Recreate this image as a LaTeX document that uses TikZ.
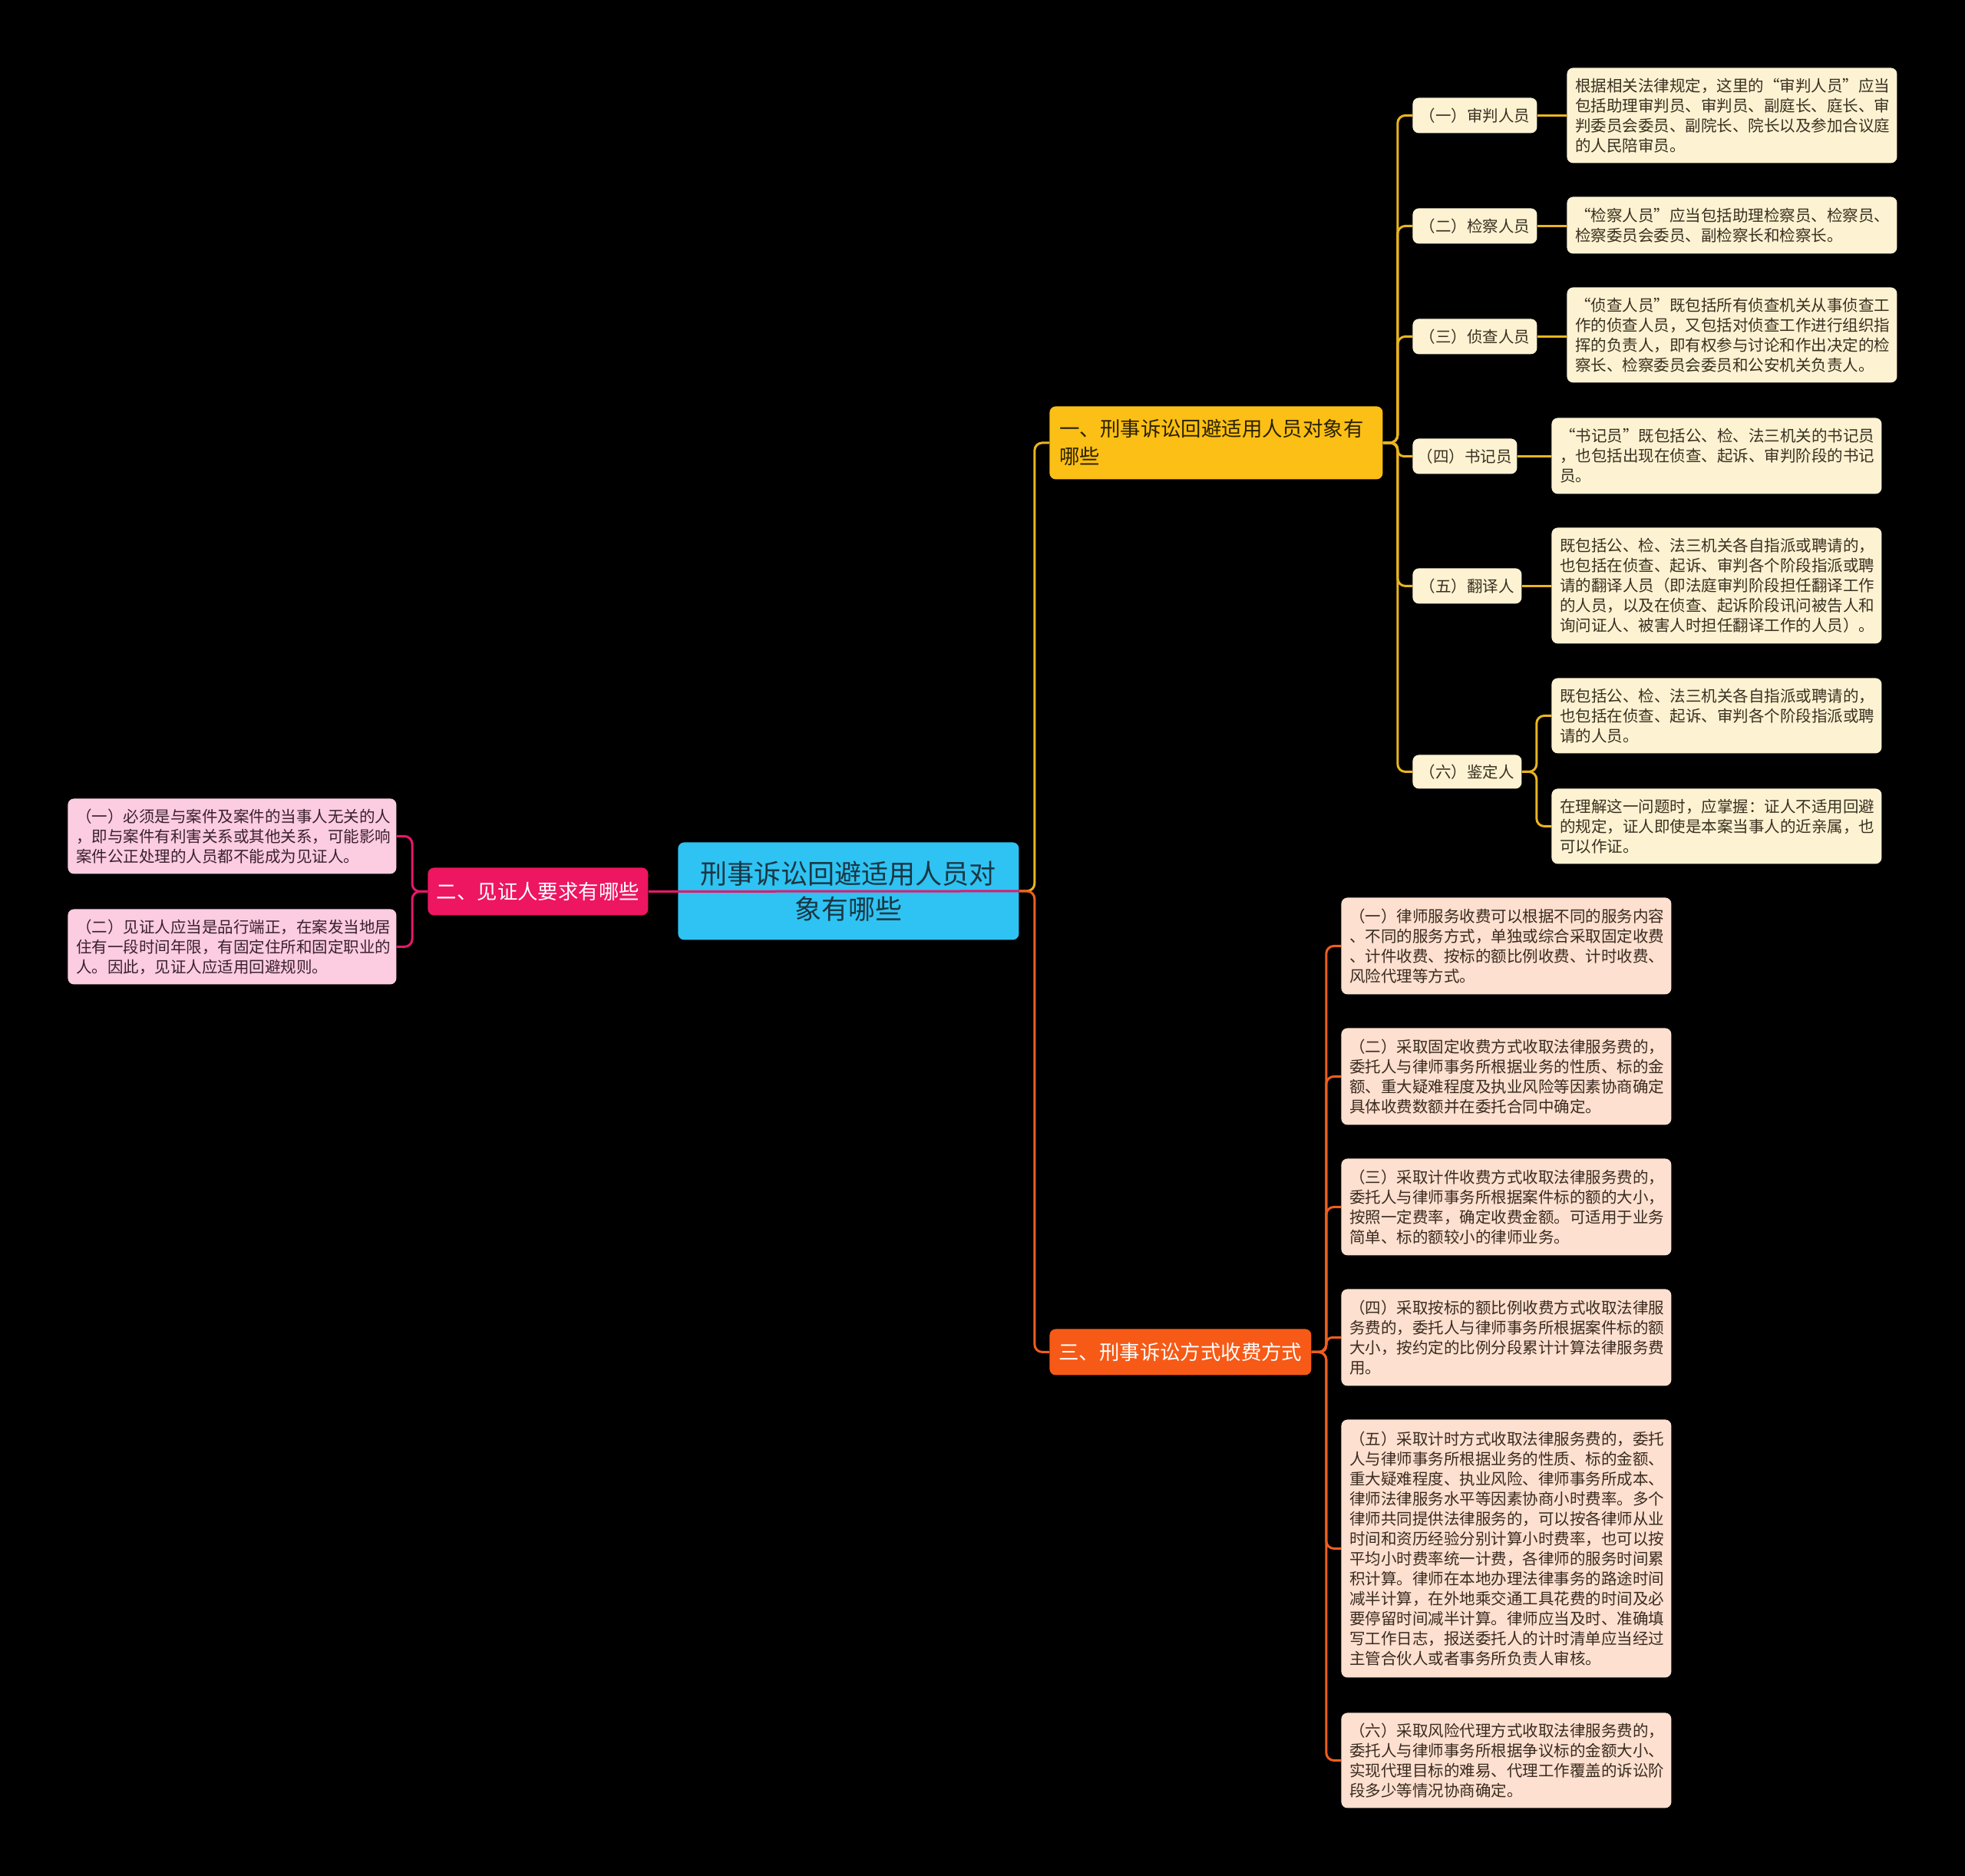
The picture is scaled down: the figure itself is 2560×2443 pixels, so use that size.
\documentclass[tikz,border=0pt]{standalone}
\usepackage{fontspec}
\usetikzlibrary{backgrounds}
\newfontfamily\cjk{Noto Sans CJK SC}
\definecolor{rootfill}{HTML}{2EC3F2}
\definecolor{roottext}{HTML}{1B3644}
\definecolor{yfill}{HTML}{FBBF15}
\definecolor{ytext}{HTML}{2B2100}
\definecolor{pfill}{HTML}{EE1561}
\definecolor{ofill}{HTML}{F65A16}
\definecolor{cream}{HTML}{FDF3D3}
\definecolor{pinkl}{HTML}{FCCCE1}
\definecolor{peach}{HTML}{FDE0CF}
\definecolor{dtext}{HTML}{3A3020}
\definecolor{ptext}{HTML}{3A2030}
\definecolor{otext}{HTML}{3A2A20}
\definecolor{yline}{HTML}{E9B520}
\definecolor{pline}{HTML}{E5186B}
\definecolor{oline}{HTML}{EE5E1E}
\tikzset{
  base/.style={rounded corners=4pt, inner ysep=0pt, anchor=north west},
  small/.style={font={\cjk\fontsize{10.25pt}{13pt}\selectfont}},
  mid/.style={font={\cjk\fontsize{13.2pt}{18pt}\selectfont}},
  big/.style={font={\cjk\fontsize{17.5pt}{23pt}\selectfont}},
  leafbox/.style={base, small, align=left, minimum width=215pt, text width=204pt, inner xsep=5.5pt},
  leafY/.style={leafbox, fill=cream, text=dtext},
  leafP/.style={leafbox, fill=pinkl, text=ptext, minimum width=214pt, text width=203pt},
  leafO/.style={leafbox, fill=peach, text=otext},
  childY/.style={base, small, fill=cream, text=dtext, align=center, inner xsep=0pt, minimum height=23pt},
  branch/.style={base, mid, inner xsep=0pt},
  yconn/.style={draw=yline, line width=1.5pt, rounded corners=5pt},
  pconn/.style={draw=pline, line width=1.5pt, rounded corners=5pt},
  oconn/.style={draw=oline, line width=1.5pt, rounded corners=5pt},
}
\begin{document}
\begin{tikzpicture}[x=0.5pt,y=-0.5pt]
\useasboundingbox (0,0) rectangle (2560,2443);

% central node
\node[base, big, fill=rootfill, text=roottext, align=center, inner xsep=0pt, minimum width=222pt, minimum height=63.5pt] (root) at (883,1097) {刑事诉讼回避适用人员对\\象有哪些};

% branches
\node[branch, fill=yfill, text=ytext, align=left, minimum width=217pt, minimum height=47.5pt, text width=204pt, inner xsep=6.5pt] (b1) at (1367,529) {一、刑事诉讼回避适用人员对象有\\哪些};
\node[branch, fill=pfill, text=white, align=center, minimum width=143.5pt, minimum height=31pt] (b2) at (557,1130) {二、见证人要求有哪些};
\node[branch, fill=ofill, text=white, align=center, minimum width=170.5pt, minimum height=30pt] (b3) at (1367,1731) {三、刑事诉讼方式收费方式};

% branch 1 children
\node[childY, minimum width=81pt] (c1) at (1840,127) {（一）审判人员};
\node[childY, minimum width=81pt] (c2) at (1840,271) {（二）检察人员};
\node[childY, minimum width=81pt] (c3) at (1840,415) {（三）侦查人员};
\node[childY, minimum width=68pt] (c4) at (1840,571) {（四）书记员};
\node[childY, minimum width=71pt] (c5) at (1840,740) {（五）翻译人};
\node[childY, minimum width=71pt, minimum height=22pt] (c6) at (1840,983) {（六）鉴定人};

% branch 1 leaves
\node[leafY, minimum height=62pt] (l1) at (2041,88) {根据相关法律规定，这里的“审判人员”应当\\包括助理审判员、审判员、副庭长、庭长、审\\判委员会委员、副院长、院长以及参加合议庭\\的人民陪审员。};
\node[leafY, minimum height=37pt] (l2) at (2041,256) {“检察人员”应当包括助理检察员、检察员、\\检察委员会委员、副检察长和检察长。};
\node[leafY, minimum height=62pt] (l3) at (2041,374) {“侦查人员”既包括所有侦查机关从事侦查工\\作的侦查人员，又包括对侦查工作进行组织指\\挥的负责人，即有权参与讨论和作出决定的检\\察长、检察委员会委员和公安机关负责人。};
\node[leafY, minimum height=49.5pt] (l4) at (2021,544) {“书记员”既包括公、检、法三机关的书记员\\，也包括出现在侦查、起诉、审判阶段的书记\\员。};
\node[leafY, minimum height=75.5pt] (l5) at (2021,687) {既包括公、检、法三机关各自指派或聘请的，\\也包括在侦查、起诉、审判各个阶段指派或聘\\请的翻译人员（即法庭审判阶段担任翻译工作\\的人员，以及在侦查、起诉阶段讯问被告人和\\询问证人、被害人时担任翻译工作的人员）。};
\node[leafY, minimum height=49pt] (l6a) at (2021,883) {既包括公、检、法三机关各自指派或聘请的，\\也包括在侦查、起诉、审判各个阶段指派或聘\\请的人员。};
\node[leafY, minimum height=49pt] (l6b) at (2021,1027) {在理解这一问题时，应掌握：证人不适用回避\\的规定，证人即使是本案当事人的近亲属，也\\可以作证。};

% branch 2 leaves
\node[leafP, minimum height=49pt] (la) at (88,1040) {（一）必须是与案件及案件的当事人无关的人\\，即与案件有利害关系或其他关系，可能影响\\案件公正处理的人员都不能成为见证人。};
\node[leafP, minimum height=49pt] (lb) at (88,1184) {（二）见证人应当是品行端正，在案发当地居\\住有一段时间年限，有固定住所和固定职业的\\人。因此，见证人应适用回避规则。};

% branch 3 leaves
\node[leafO, minimum height=63pt] (m1) at (1747,1169) {（一）律师服务收费可以根据不同的服务内容\\、不同的服务方式，单独或综合采取固定收费\\、计件收费、按标的额比例收费、计时收费、\\风险代理等方式。};
\node[leafO, minimum height=63pt] (m2) at (1747,1339) {（二）采取固定收费方式收取法律服务费的，\\委托人与律师事务所根据业务的性质、标的金\\额、重大疑难程度及执业风险等因素协商确定\\具体收费数额并在委托合同中确定。};
\node[leafO, minimum height=63pt] (m3) at (1747,1509) {（三）采取计件收费方式收取法律服务费的，\\委托人与律师事务所根据案件标的额的大小，\\按照一定费率，确定收费金额。可适用于业务\\简单、标的额较小的律师业务。};
\node[leafO, minimum height=63pt] (m4) at (1747,1679) {（四）采取按标的额比例收费方式收取法律服\\务费的，委托人与律师事务所根据案件标的额\\大小，按约定的比例分段累计计算法律服务费\\用。};
\node[leafO, minimum height=168pt] (m5) at (1747,1849) {（五）采取计时方式收取法律服务费的，委托\\人与律师事务所根据业务的性质、标的金额、\\重大疑难程度、执业风险、律师事务所成本、\\律师法律服务水平等因素协商小时费率。多个\\律师共同提供法律服务的，可以按各律师从业\\时间和资历经验分别计算小时费率，也可以按\\平均小时费率统一计费，各律师的服务时间累\\积计算。律师在本地办理法律事务的路途时间\\减半计算，在外地乘交通工具花费的时间及必\\要停留时间减半计算。律师应当及时、准确填\\写工作日志，报送委托人的计时清单应当经过\\主管合伙人或者事务所负责人审核。};
\node[leafO, minimum height=62pt] (m6) at (1747,2231) {（六）采取风险代理方式收取法律服务费的，\\委托人与律师事务所根据争议标的金额大小、\\实现代理目标的难易、代理工作覆盖的诉讼阶\\段多少等情况协商确定。};

% pink connector runs over the central node
\draw[pconn, rounded corners=0pt] (b2.east) -- (root.east);

\begin{scope}[on background layer]
\fill[black] (-20,-20) rectangle (2580,2463);
% root to branches
\draw[yconn] (root.east) -- ++(20,0) |- (b1.west);
\draw[oconn] (root.east) -- ++(20,0) |- (b3.west);

% branch 1 to children
\draw[yconn] (b1.east) -- ++(19,0) |- (c1.west);
\draw[yconn] (b1.east) -- ++(19,0) |- (c2.west);
\draw[yconn] (b1.east) -- ++(19,0) |- (c3.west);
\draw[yconn, rounded corners=4pt] (b1.east) -- ++(19,0) |- (c4.west);
\draw[yconn] (b1.east) -- ++(19,0) |- (c5.west);
\draw[yconn] (b1.east) -- ++(19,0) |- (c6.west);

% children to leaves
\draw[yconn] (c1.east) -- (c1.east -| l1.west);
\draw[yconn] (c2.east) -- (c2.east -| l2.west);
\draw[yconn] (c3.east) -- (c3.east -| l3.west);
\draw[yconn] (c4.east) -- (c4.east -| l4.west);
\draw[yconn] (c5.east) -- (c5.east -| l5.west);
\draw[yconn] (c6.east) -- ++(19,0) |- (l6a.west);
\draw[yconn] (c6.east) -- ++(19,0) |- (l6b.west);

% branch 2 to leaves
\draw[pconn] (b2.west) -- ++(-20,0) |- (la.east);
\draw[pconn] (b2.west) -- ++(-20,0) |- (lb.east);

% branch 3 to leaves
\draw[oconn] (b3.east) -- ++(19,0) |- (m1.west);
\draw[oconn] (b3.east) -- ++(19,0) |- (m2.west);
\draw[oconn] (b3.east) -- ++(19,0) |- (m3.west);
\draw[oconn, rounded corners=4pt] (b3.east) -- ++(19,0) |- (m4.west);
\draw[oconn] (b3.east) -- ++(19,0) |- (m5.west);
\draw[oconn] (b3.east) -- ++(19,0) |- (m6.west);
\end{scope}
\end{tikzpicture}
\end{document}
